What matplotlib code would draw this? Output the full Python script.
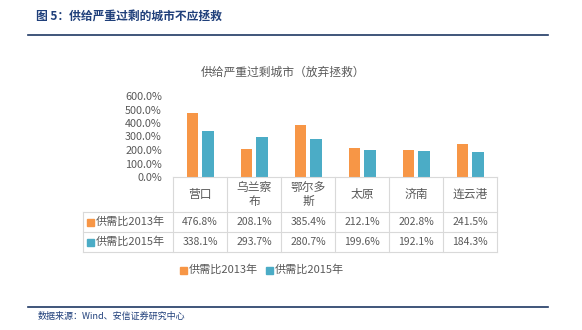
import matplotlib
matplotlib.use("Agg")
import matplotlib.pyplot as plt
from matplotlib.patches import Rectangle
from matplotlib.lines import Line2D

plt.rcParams['font.family'] = ['Noto Sans CJK SC', 'DejaVu Sans']

categories = ["营口", "乌兰察\n布", "鄂尔多\n斯", "太原", "济南", "连云港"]
series_names = ["供需比2013年", "供需比2015年"]
v2013 = [476.8, 208.1, 385.4, 212.1, 202.8, 241.5]
v2015 = [338.1, 293.7, 280.7, 199.6, 192.1, 184.3]
yticks = [0, 100, 200, 300, 400, 500, 600]

c13 = "#F79646"
c15 = "#4BACC6"
gray = "#595959"
lgray = "#D9D9D9"
navy = "#1F3864"

W, H = 582, 330
fig = plt.figure(figsize=(W/100, H/100), dpi=100)

def fx(x): return x / W
def fy(y): return 1 - y / H

# header
fig.text(fx(36), fy(17), "图 5：供给严重过剩的城市不应拯救", fontsize=8.5, fontweight='bold',
         color="#1F3F7A", ha='left', va='center')
fig.add_artist(Line2D([fx(28), fx(548)], [fy(35), fy(35)], color=navy, lw=1.2))
fig.add_artist(Line2D([fx(28), fx(548)], [fy(307), fy(307)], color=navy, lw=1.2))
fig.text(fx(38), fy(316), "数据来源：Wind、安信证券研究中心", fontsize=6.5, fontstyle='italic',
         color="#1F3F7A", ha='left', va='center')

# chart title
fig.text(fx(283), fy(72), "供给严重过剩城市（放弃拯救）", fontsize=8.5, color=gray, ha='center', va='center')

# bar axes
x0, x1 = 173, 497
ytop, ybot = 96, 177
ax = fig.add_axes([fx(x0), fy(ybot), fx(x1 - x0), (ybot - ytop) / H])
n = len(categories)
idx = list(range(n))
bw = 0.22
ax.bar([i - 0.14 for i in idx], v2013, width=bw, color=c13)
ax.bar([i + 0.14 for i in idx], v2015, width=bw, color=c15)
ax.set_xlim(-0.5, n - 0.5)
ax.set_ylim(0, 600)
ax.set_yticks(yticks)
ax.set_yticklabels([f"{t:.1f}%" for t in yticks], fontsize=7.8, color=gray)
ax.set_xticks([])
for s in ax.spines.values():
    s.set_visible(False)
ax.tick_params(axis='y', length=0, pad=8)
ax.patch.set_alpha(0)

# table
colw = (x1 - x0) / n
rows_y = [177, 212, 232, 252]
lab_x = 83
fig.add_artist(Line2D([fx(x0), fx(x1)], [fy(177), fy(177)], color=lgray, lw=0.8))
for yy in rows_y[1:]:
    fig.add_artist(Line2D([fx(lab_x), fx(x1)], [fy(yy), fy(yy)], color=lgray, lw=0.8))
for i in range(n + 1):
    xx = x0 + i * colw
    fig.add_artist(Line2D([fx(xx), fx(xx)], [fy(177), fy(252)], color=lgray, lw=0.8))
fig.add_artist(Line2D([fx(lab_x), fx(lab_x)], [fy(212), fy(252)], color=lgray, lw=0.8))

for i, c in enumerate(categories):
    cx = x0 + (i + 0.5) * colw
    fig.text(fx(cx), fy(194.5), c, fontsize=8.5, color=gray, ha='center', va='center', linespacing=1.1)

for r, (name, vals, col) in enumerate([(series_names[0], v2013, c13), (series_names[1], v2015, c15)]):
    cy = (rows_y[r + 1] + rows_y[r + 2]) / 2
    fig.add_artist(Rectangle((fx(87), fy(cy + 3.5)), fx(7), 7 / H, color=col, transform=fig.transFigure))
    fig.text(fx(96), fy(cy), name, fontsize=8, color=gray, ha='left', va='center')
    for i, v in enumerate(vals):
        cx = x0 + (i + 0.5) * colw
        fig.text(fx(cx), fy(cy), f"{v:.1f}%", fontsize=7.5, color=gray, ha='center', va='center')

# legend
ly = 270
for lx, name, col in [(180, series_names[0], c13), (266, series_names[1], c15)]:
    fig.add_artist(Rectangle((fx(lx), fy(ly + 3.5)), fx(7), 7 / H, color=col, transform=fig.transFigure))
    fig.text(fx(lx + 9), fy(ly), name, fontsize=8, color=gray, ha='left', va='center')

fig.savefig("out.png", dpi=100)
